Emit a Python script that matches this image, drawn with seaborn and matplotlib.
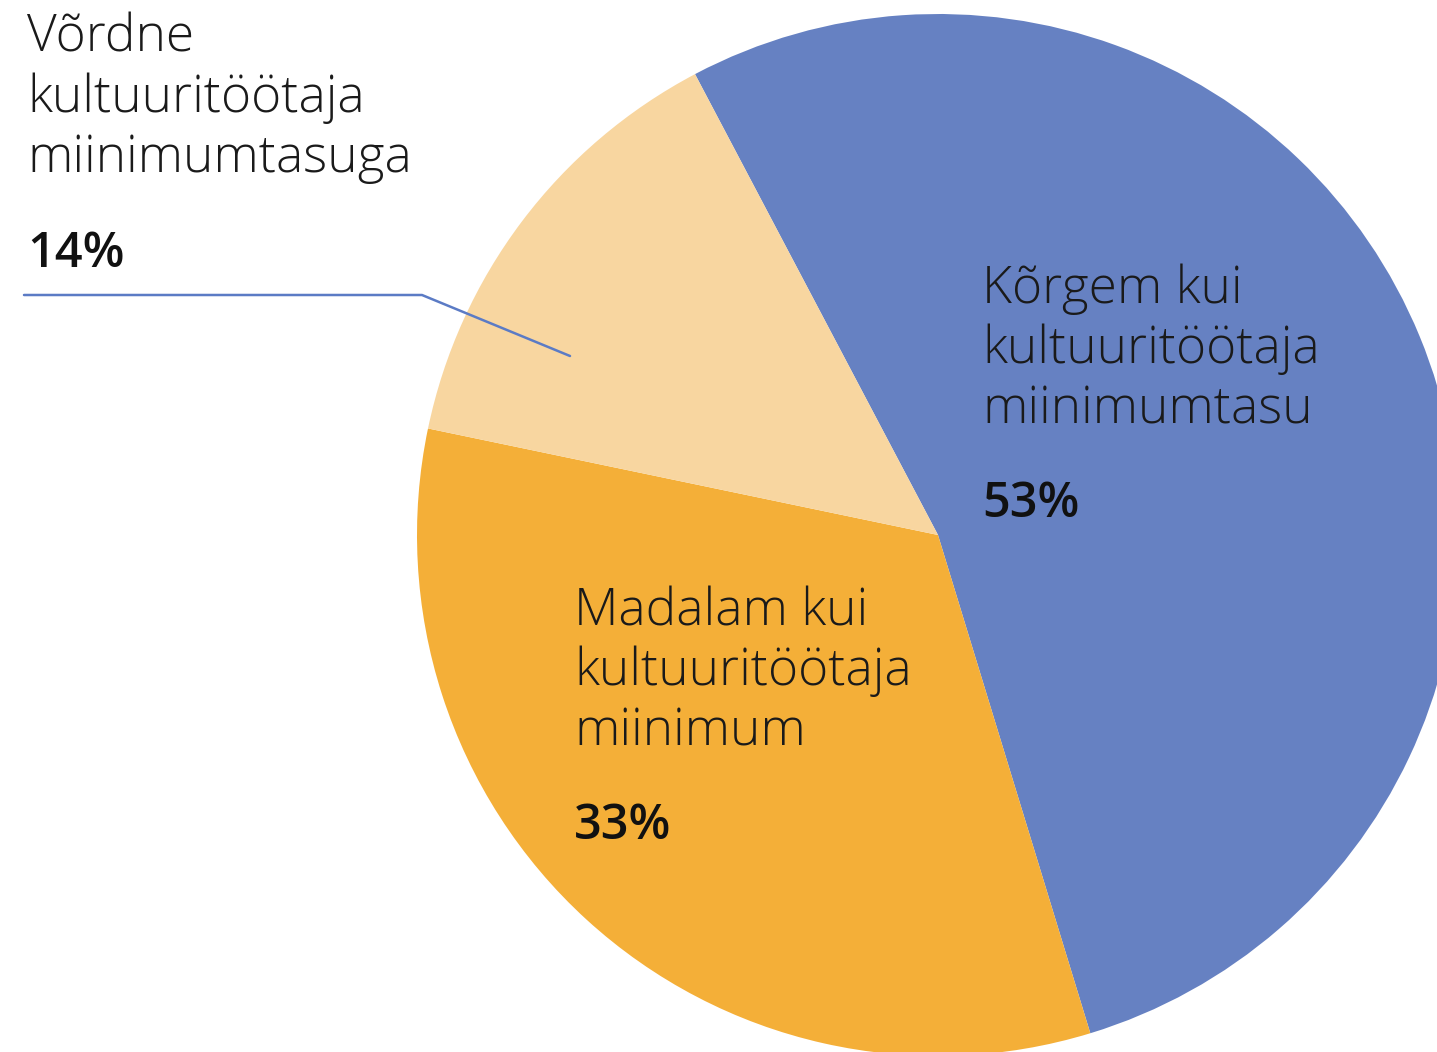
import matplotlib
matplotlib.use("Agg")
import matplotlib.pyplot as plt
import seaborn as sns

labels = ["Kõrgem kui\nkultuuritöötaja\nmiinimumtasu",
          "Madalam kui\nkultuuritöötaja\nmiinimum",
          "Võrdne\nkultuuritöötaja\nmiinimumtasuga"]
shares = [53, 33, 14]
colors = ["#6681C2", "#F4AF38", "#F8D6A0"]

sns.set_theme(style="white")
plt.rcParams["font.family"] = ["Open Sans", "DejaVu Sans"]

W, H = 1437, 1052
fig = plt.figure(figsize=(W / 100, H / 100), dpi=100)
ax = fig.add_axes([0, 0, 1, 1])

# pie centre at (938, 535) px, radius 521 px
r = 521
cx, cy = 938, 535
ax.pie(shares, colors=colors, startangle=117.8, counterclock=False,
       radius=1, center=(0, 0), wedgeprops=dict(linewidth=0))
ax.set_xlim(-cx / r, (W - cx) / r)
ax.set_ylim(-(H - cy) / r, cy / r)
ax.set_aspect("auto")
ax.axis("off")


def px(x, y):
    return x / W, 1 - y / H


label_pos = [(982, 303), (574, 625), (27, 52)]
pct_pos = [(982, 517), (574, 839), (27, 267)]
for lab, val, (lx, ly), (vx, vy) in zip(labels, shares, label_pos, pct_pos):
    for i, line in enumerate(lab.split("\n")):
        fig.text(*px(lx, ly + 60 * i), line, fontsize=37, fontweight="light",
                 color="#1a1a1a", ha="left", va="baseline")
    fig.text(*px(vx, vy), f"{val}%", fontsize=35, fontweight="semibold",
             color="#111111", ha="left", va="baseline")

# leader line for the small slice
line_x = [24, 422, 570]
line_y = [295, 295, 356]
fig.add_artist(plt.Line2D([x / W for x in line_x], [1 - y / H for y in line_y],
                          color="#5B7BC5", linewidth=1.8))

fig.savefig("out.png", dpi=100, facecolor="white")
